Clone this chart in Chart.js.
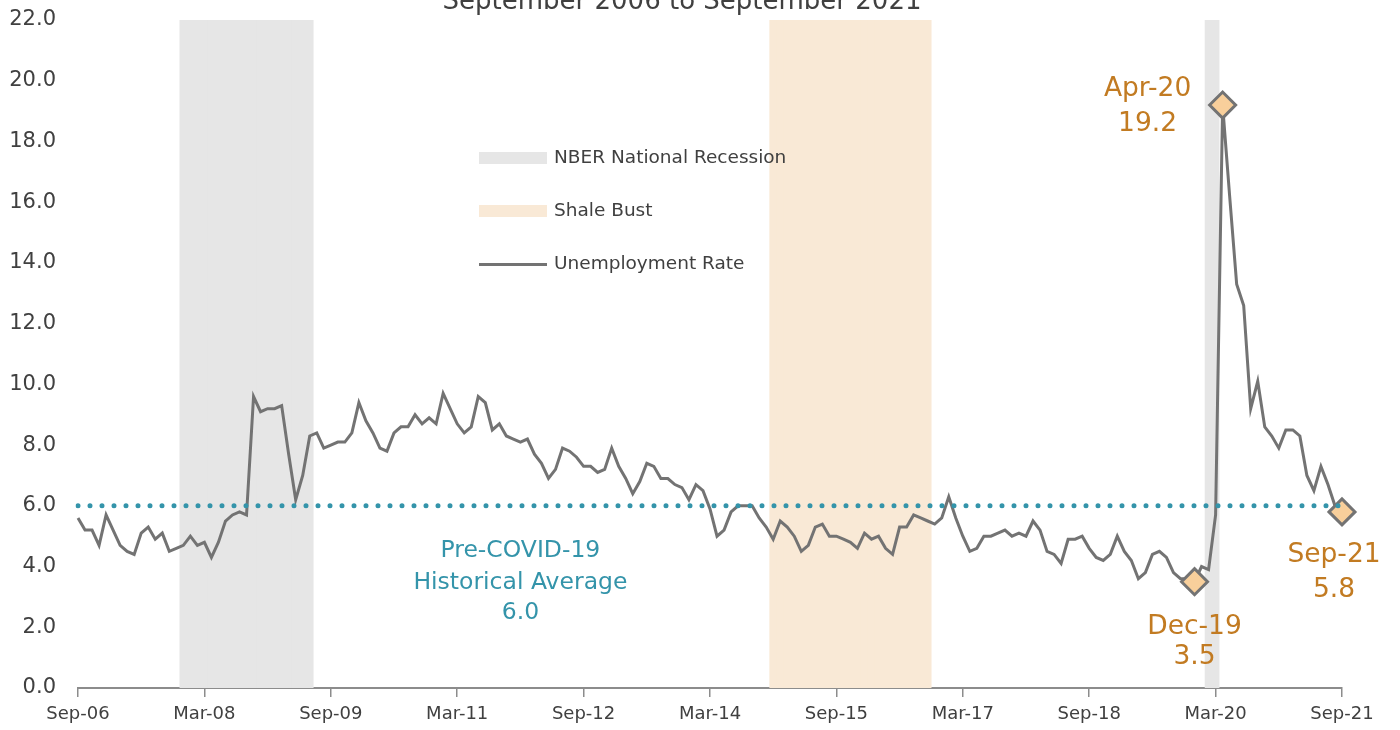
<!DOCTYPE html>
<html>
<head>
<meta charset="utf-8">
<script src="https://cdn.jsdelivr.net/npm/chart.js@4/dist/chart.umd.min.js"></script>
<style>
  body { margin: 0; background: #fff; }
  #wrap { width: 1400px; height: 730px; position: relative; }
</style>
</head>
<body>
<div id="wrap"><canvas id="canvas"></canvas></div>
<script>
// monthly unemployment rate, Sep-06 .. Sep-21
const rate = [
  5.6, 5.2, 5.2, 4.7, 5.7, 5.2, 4.7, 4.5, 4.4, 5.1, 5.3, 4.9,
  5.1, 4.5, 4.6, 4.7, 5.0, 4.7, 4.8, 4.3, 4.8, 5.5, 5.7, 5.8,
  5.7, 9.6, 9.1, 9.2, 9.2, 9.3, 7.7, 6.2, 7.0, 8.3, 8.4, 7.9,
  8.0, 8.1, 8.1, 8.4, 9.4, 8.8, 8.4, 7.9, 7.8, 8.4, 8.6, 8.6,
  9.0, 8.7, 8.9, 8.7, 9.7, 9.2, 8.7, 8.4, 8.6, 9.6, 9.4, 8.5,
  8.7, 8.3, 8.2, 8.1, 8.2, 7.7, 7.4, 6.9, 7.2, 7.9, 7.8, 7.6,
  7.3, 7.3, 7.1, 7.2, 7.9, 7.3, 6.9, 6.4, 6.8, 7.4, 7.3, 6.9,
  6.9, 6.7, 6.6, 6.2, 6.7, 6.5, 5.9, 5.0, 5.2, 5.8, 6.0, 6.0,
  6.0, 5.6, 5.3, 4.9, 5.5, 5.3, 5.0, 4.5, 4.7, 5.3, 5.4, 5.0,
  5.0, 4.9, 4.8, 4.6, 5.1, 4.9, 5.0, 4.6, 4.4, 5.3, 5.3, 5.7,
  5.6, 5.5, 5.4, 5.6, 6.3, 5.6, 5.0, 4.5, 4.6, 5.0, 5.0, 5.1,
  5.2, 5.0, 5.1, 5.0, 5.5, 5.2, 4.5, 4.4, 4.1, 4.9, 4.9, 5.0,
  4.6, 4.3, 4.2, 4.4, 5.0, 4.5, 4.2, 3.6, 3.8, 4.4, 4.5, 4.3,
  3.8, 3.6, 3.6, 3.5, 4.0, 3.9, 5.7, 19.2, 16.2, 13.3, 12.6, 9.2,
  10.1, 8.6, 8.3, 7.9, 8.5, 8.5, 8.3, 7.0, 6.5, 7.3, 6.7, 6.0,
  5.8
];

const tickLabels = ['Sep-06', 'Mar-08', 'Sep-09', 'Mar-11', 'Sep-12', 'Mar-14',
                    'Sep-15', 'Mar-17', 'Sep-18', 'Mar-20', 'Sep-21'];
const yTicks = [0, 2, 4, 6, 8, 10, 12, 14, 16, 18, 20, 22];

const preCovidAvg = 6.0;
const nberPeriods = [['Dec-07', 'Jun-09'], ['Feb-20', 'Mar-20']];
const shalePeriods = [['Dec-14', 'Oct-16']];
const highlights = ['Dec-19', 'Apr-20', 'Sep-21'];

// month labels for the category axis
const monthNames = ['Jan', 'Feb', 'Mar', 'Apr', 'May', 'Jun', 'Jul', 'Aug', 'Sep', 'Oct', 'Nov', 'Dec'];
const labels = [];
for (let i = 0; i < rate.length; i++) {
    const m = 8 + i;
    labels.push(monthNames[m % 12] + '-' + String(6 + Math.floor(m / 12)).padStart(2, '0'));
}

function bandData(periods) {
    const top = yTicks[yTicks.length - 1];
    return labels.map((l, i) => periods.some(p => i >= labels.indexOf(p[0]) && i <= labels.indexOf(p[1])) ? top : null);
}

const FONT = 'DejaVu Sans';
const ORANGE = '#C27B22';
const TEAL = '#3494AA';
const TEXT = '#404040';

const overlay = {
    id: 'overlay',
    afterDatasetsDraw(chart) {
        const ctx = chart.ctx;
        const x = chart.scales.x, y = chart.scales.y;
        ctx.save();
        ctx.textAlign = 'center';
        ctx.textBaseline = 'middle';

        // title (cut off at the top in the original)
        ctx.fillStyle = TEXT;
        ctx.font = '26px ' + FONT;
        ctx.textBaseline = 'alphabetic';
        ctx.fillText('September 2006 to September 2021', 682, 9);
        ctx.textBaseline = 'middle';

        // legend
        ctx.textAlign = 'left';
        ctx.font = '18.5px ' + FONT;
        ctx.fillStyle = '#E6E6E6';
        ctx.fillRect(479, 152, 68, 12);
        ctx.fillStyle = '#F9E9D6';
        ctx.fillRect(479, 205, 68, 12);
        ctx.strokeStyle = '#737373';
        ctx.lineWidth = 3;
        ctx.beginPath();
        ctx.moveTo(479, 264.5);
        ctx.lineTo(547, 264.5);
        ctx.stroke();
        ctx.fillStyle = TEXT;
        ctx.fillText('NBER National Recession', 554, 158);
        ctx.fillText('Shale Bust', 554, 211);
        ctx.fillText('Unemployment Rate', 554, 264);

        // average label
        ctx.textAlign = 'center';
        ctx.font = '23.5px ' + FONT;
        ctx.fillStyle = TEAL;
        const ax = x.getPixelForValue(63), ay = y.getPixelForValue(preCovidAvg);
        ctx.fillText('Pre-COVID-19', ax, ay + 45);
        ctx.fillText('Historical Average', ax, ay + 77);
        ctx.fillText(preCovidAvg.toFixed(1), ax, ay + 107);

        // callouts
        const offsets = { 'Dec-19': [0, 45, 75], 'Apr-20': [-75, -16, 19], 'Sep-21': [-8, 43, 78] };
        ctx.font = '26.5px ' + FONT;
        ctx.fillStyle = ORANGE;
        highlights.forEach(m => {
            const i = labels.indexOf(m);
            const o = offsets[m];
            const px = x.getPixelForValue(i), py = y.getPixelForValue(rate[i]);
            ctx.fillText(m, px + o[0], py + o[1]);
            ctx.fillText(rate[i].toFixed(1), px + o[0], py + o[2]);
        });
        ctx.restore();
    }
};

const ctx = document.getElementById('canvas').getContext('2d');
const chart = new Chart(ctx, {
    type: 'bar',
    data: {
        labels: labels,
        datasets: [
            {
                type: 'line',
                label: 'Pre-COVID-19 Historical Average',
                data: [{ x: labels[0], y: preCovidAvg }, { x: labels[labels.length - 1], y: preCovidAvg }],
                borderColor: TEAL,
                borderWidth: 5,
                borderDash: [0, 12],
                borderCapStyle: 'round',
                pointRadius: 0,
                order: 0
            },
            {
                type: 'line',
                label: 'Unemployment Rate',
                data: rate,
                borderColor: '#737373',
                borderWidth: 3,
                tension: 0,
                pointStyle: 'rectRot',
                pointRadius: c => highlights.includes(labels[c.dataIndex]) ? 13 : 0,
                pointHoverRadius: c => highlights.includes(labels[c.dataIndex]) ? 13 : 0,
                pointBackgroundColor: '#F8CF9B',
                pointBorderColor: '#737373',
                pointBorderWidth: 3,
                order: 1
            },
            {
                label: 'NBER National Recession',
                data: bandData(nberPeriods),
                backgroundColor: '#E6E6E6',
                barPercentage: 1,
                categoryPercentage: 1,
                grouped: false,
                order: 2
            },
            {
                label: 'Shale Bust',
                data: bandData(shalePeriods),
                backgroundColor: '#F9E9D6',
                barPercentage: 1,
                categoryPercentage: 1,
                grouped: false,
                order: 3
            }
        ]
    },
    options: {
        responsive: true,
        maintainAspectRatio: false,
        animation: false,
        layout: { autoPadding: false, padding: { left: 0, top: 20, right: 58, bottom: 0 } },
        plugins: {
            legend: { display: false },
            tooltip: { enabled: false },
            title: { display: false }
        },
        scales: {
            x: {
                offset: false,
                afterFit: s => { s.height = 42; s.paddingLeft = 0; s.paddingRight = 0; },
                afterBuildTicks: s => {
                    s.ticks = s.ticks.filter(t => tickLabels.includes(labels[t.value]));
                },
                grid: {
                    offset: false,
                    drawOnChartArea: false,
                    drawTicks: true,
                    tickLength: 9,
                    color: '#8C8C8C',
                    lineWidth: 1.5
                },
                border: { display: true, color: '#8C8C8C', width: 2 },
                ticks: {
                    autoSkip: false,
                    maxRotation: 0,
                    padding: 7,
                    color: TEXT,
                    font: { family: FONT, size: 18 }
                }
            },
            y: {
                min: yTicks[0],
                max: yTicks[yTicks.length - 1],
                afterFit: s => { s.width = 78; s.paddingTop = 0; s.paddingBottom = 0; },
                grid: { display: false, drawTicks: false },
                border: { display: false },
                ticks: {
                    stepSize: 2,
                    padding: 22,
                    color: TEXT,
                    font: { family: FONT, size: 21 },
                    callback: v => v.toFixed(1)
                }
            }
        }
    },
    plugins: [overlay]
});
</script>
</body>
</html>
